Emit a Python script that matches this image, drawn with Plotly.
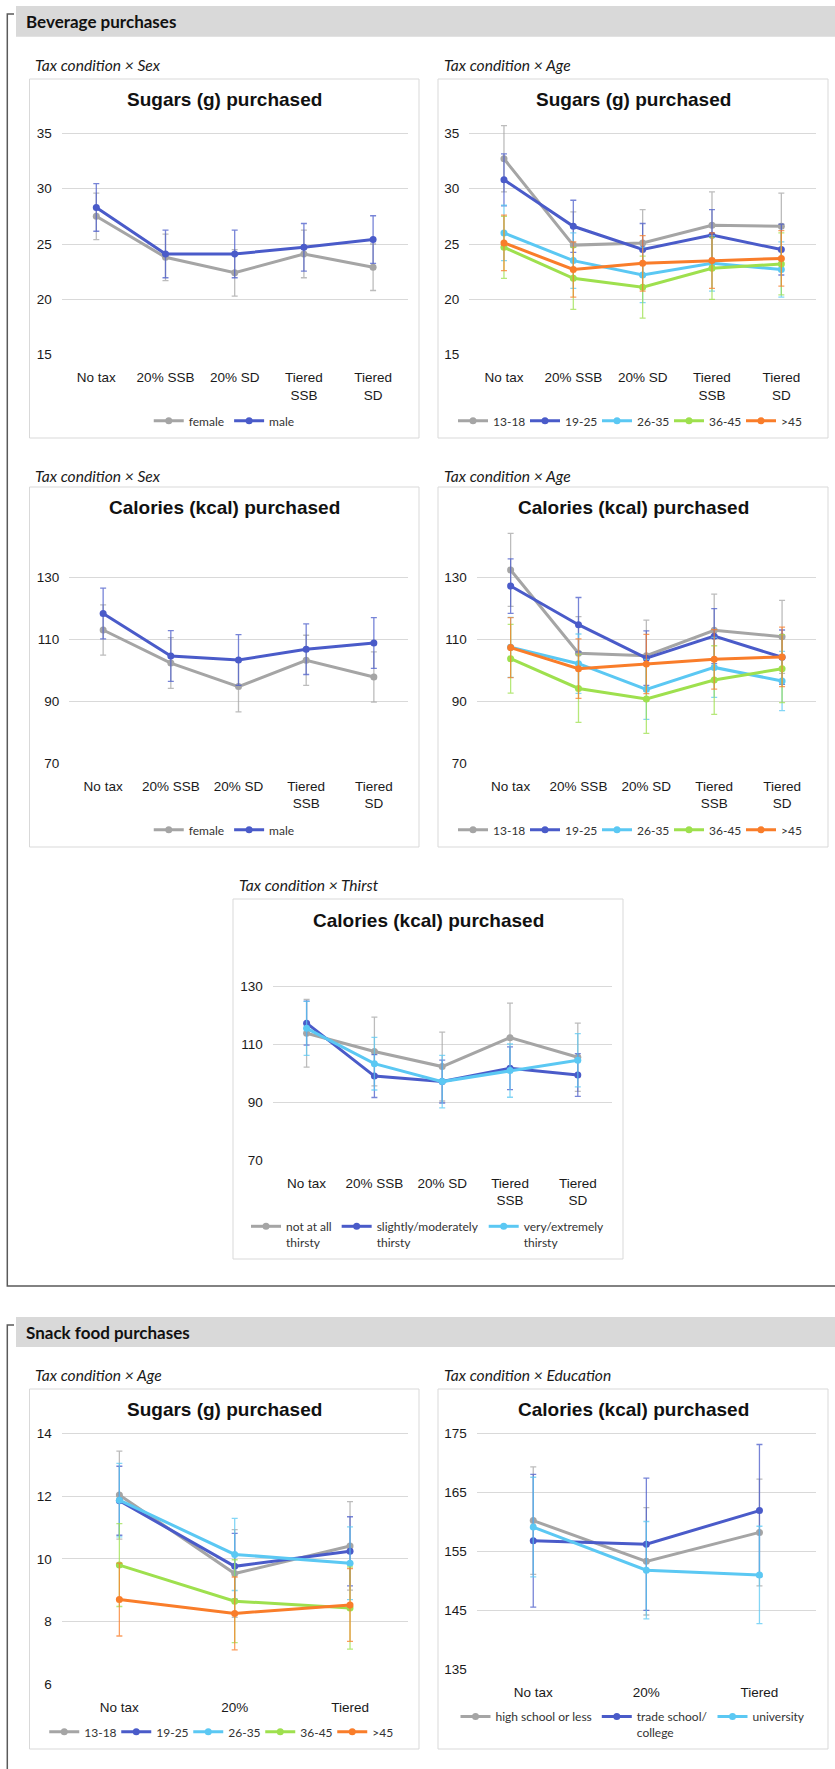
import plotly.graph_objects as go

W, H = 835, 1769

# ---------------- data ----------------
bev_categories = ["No tax", "20% SSB", "20% SD", "Tiered<br>SSB", "Tiered<br>SD"]
snack_categories = ["No tax", "20%", "Tiered"]

sex_groups = ["female", "male"]
age_groups = ["13-18", "19-25", "26-35", "36-45", ">45"]
thirst_groups = ["not at all<br>thirsty", "slightly/moderately<br>thirsty", "very/extremely<br>thirsty"]
edu_groups = ["high school or less", "trade school/<br>college", "university"]

# Beverage: sugars (g) by sex
bev_sugar_female = [27.5, 23.8, 22.4, 24.1, 22.9]
bev_sugar_female_err = [2.1, 2.1, 2.1, 2.15, 2.1]
bev_sugar_male = [28.3, 24.1, 24.1, 24.7, 25.4]
bev_sugar_male_err = [2.15, 2.15, 2.15, 2.15, 2.15]

# Beverage: sugars (g) by age
bev_sugar_13_18 = [32.7, 24.9, 25.1, 26.7, 26.6]
bev_sugar_13_18_err = [3.0, 3.0, 3.0, 3.0, 3.0]
bev_sugar_19_25 = [30.8, 26.6, 24.5, 25.8, 24.5]
bev_sugar_19_25_err = [2.35, 2.35, 2.35, 2.3, 2.3]
bev_sugar_26_35 = [26.0, 23.5, 22.2, 23.25, 22.7]
bev_sugar_26_35_err = [2.5, 2.5, 2.5, 2.5, 2.5]
bev_sugar_36_45 = [24.7, 21.9, 21.1, 22.8, 23.2]
bev_sugar_36_45_err = [2.8, 2.8, 2.8, 2.8, 2.8]
bev_sugar_45p = [25.1, 22.7, 23.25, 23.5, 23.7]
bev_sugar_45p_err = [2.5, 2.5, 2.5, 2.5, 2.5]

# Beverage: calories (kcal) by sex
bev_cal_female = [113.1, 102.4, 94.8, 103.3, 97.9]
bev_cal_female_err = [8.1, 8.2, 8.2, 8.1, 8.1]
bev_cal_male = [118.4, 104.7, 103.4, 106.9, 108.9]
bev_cal_male_err = [8.2, 8.2, 8.2, 8.2, 8.2]

# Beverage: calories (kcal) by age
bev_cal_13_18 = [132.5, 105.6, 104.8, 113.0, 110.9]
bev_cal_13_18_err = [11.8, 11.8, 11.5, 11.7, 11.8]
bev_cal_19_25 = [127.3, 114.8, 104.0, 111.1, 104.3]
bev_cal_19_25_err = [8.8, 8.8, 8.8, 8.9, 8.8]
bev_cal_26_35 = [107.5, 102.2, 93.9, 101.0, 96.6]
bev_cal_26_35_err = [9.7, 9.6, 9.7, 9.7, 9.6]
bev_cal_36_45 = [103.8, 94.2, 90.8, 96.9, 100.6]
bev_cal_36_45_err = [11.1, 11.0, 11.1, 11.1, 11.0]
bev_cal_45p = [107.4, 100.6, 102.1, 103.6, 104.4]
bev_cal_45p_err = [9.7, 9.6, 9.6, 9.6, 9.6]

# Beverage: calories (kcal) by thirst
bev_cal_not_thirsty = [113.9, 107.6, 102.4, 112.4, 105.6]
bev_cal_not_thirsty_err = [11.7, 11.9, 11.9, 11.9, 11.8]
bev_cal_slightly_thirsty = [117.4, 99.1, 97.2, 101.8, 99.5]
bev_cal_slightly_thirsty_err = [7.6, 7.4, 7.4, 7.4, 7.4]
bev_cal_very_thirsty = [115.6, 103.4, 97.2, 101.0, 104.6]
bev_cal_very_thirsty_err = [9.3, 9.1, 9.1, 9.2, 9.2]

# Snack: sugars (g) by age
snack_sugar_13_18 = [12.03, 9.53, 10.41]
snack_sugar_13_18_err = [1.4, 1.4, 1.41]
snack_sugar_19_25 = [11.85, 9.76, 10.24]
snack_sugar_19_25_err = [1.1, 1.05, 1.1]
snack_sugar_26_35 = [11.87, 10.14, 9.86]
snack_sugar_26_35_err = [1.17, 1.15, 1.16]
snack_sugar_36_45 = [9.80, 8.65, 8.43]
snack_sugar_36_45_err = [1.32, 1.32, 1.31]
snack_sugar_45p = [8.70, 8.26, 8.53]
snack_sugar_45p_err = [1.16, 1.16, 1.16]

# Snack: calories (kcal) by education
snack_cal_highschool = [160.2, 153.3, 158.2]
snack_cal_highschool_err = [9.1, 9.1, 9.05]
snack_cal_trade = [156.8, 156.2, 161.9]
snack_cal_trade_err = [11.25, 11.2, 11.2]
snack_cal_university = [159.1, 151.8, 151.0]
snack_cal_university_err = [8.45, 8.25, 8.25]

# ---------------- styling ----------------
GRAY = "#A5A5A5"
BLUE = "#4A5BC9"
LBLUE = "#5BC8F3"
GREEN = "#9EE04E"
ORANGE = "#F97D2A"

def rgba(hexc, a):
    h = hexc.lstrip("#")
    r, g, b = int(h[0:2], 16), int(h[2:4], 16), int(h[4:6], 16)
    return f"rgba({r},{g},{b},{a})"

TICK_FONT = dict(family="Liberation Sans, Arial, sans-serif", size=13.5, color="#1a1a1a")
LEG_FONT = dict(family="Lato, Carlito, sans-serif", size=12, color="#333333")

def px(x):
    return x / W

def py(y):
    return 1 - y / H

def ydomain(v1, p1, v2, p2, lo, hi):
    k = (p1 - p2) / (v2 - v1)
    pbot = p1 + (v1 - lo) * k
    ptop = p1 - (hi - v1) * k
    return [1 - pbot / H, 1 - ptop / H]

panels = [
    dict(box=(29.5, 79, 419, 438), xdom=(61.7, 407.7), ycal=(15, 354.7, 35, 133.3), yr=(15, 36),
         tv=[15, 20, 25, 30, 35], cats=bev_categories, title="Sugars (g) purchased", ty=99.5,
         sub="Tax condition × Sex", sx=33, sy=65, ly=421, ew=None,
         series=[(sex_groups[0], bev_sugar_female, bev_sugar_female_err, GRAY),
                 (sex_groups[1], bev_sugar_male, bev_sugar_male_err, BLUE)]),
    dict(box=(438, 79, 828, 438), xdom=(469.3, 816), ycal=(15, 354.7, 35, 133.3), yr=(15, 36),
         tv=[15, 20, 25, 30, 35], cats=bev_categories, title="Sugars (g) purchased", ty=99.5,
         sub="Tax condition × Age", sx=442, sy=65, ly=421, ew=27,
         series=[(age_groups[0], bev_sugar_13_18, bev_sugar_13_18_err, GRAY),
                 (age_groups[1], bev_sugar_19_25, bev_sugar_19_25_err, BLUE),
                 (age_groups[2], bev_sugar_26_35, bev_sugar_26_35_err, LBLUE),
                 (age_groups[3], bev_sugar_36_45, bev_sugar_36_45_err, GREEN),
                 (age_groups[4], bev_sugar_45p, bev_sugar_45p_err, ORANGE)]),
    dict(box=(29.5, 487, 419, 847), xdom=(69.3, 407.7), ycal=(70, 763.3, 130, 577.7), yr=(70, 146),
         tv=[70, 90, 110, 130], cats=bev_categories, title="Calories (kcal) purchased", ty=507.7,
         sub="Tax condition × Sex", sx=33, sy=476, ly=830, ew=None,
         series=[(sex_groups[0], bev_cal_female, bev_cal_female_err, GRAY),
                 (sex_groups[1], bev_cal_male, bev_cal_male_err, BLUE)]),
    dict(box=(438, 487, 828, 847), xdom=(476.7, 816), ycal=(70, 763.3, 130, 577.7), yr=(70, 146),
         tv=[70, 90, 110, 130], cats=bev_categories, title="Calories (kcal) purchased", ty=507.7,
         sub="Tax condition × Age", sx=442, sy=476, ly=830, ew=27,
         series=[(age_groups[0], bev_cal_13_18, bev_cal_13_18_err, GRAY),
                 (age_groups[1], bev_cal_19_25, bev_cal_19_25_err, BLUE),
                 (age_groups[2], bev_cal_26_35, bev_cal_26_35_err, LBLUE),
                 (age_groups[3], bev_cal_36_45, bev_cal_36_45_err, GREEN),
                 (age_groups[4], bev_cal_45p, bev_cal_45p_err, ORANGE)]),
    dict(box=(233, 899, 623, 1259), xdom=(272.7, 611.7), ycal=(70, 1160.3, 130, 986.7), yr=(70, 131),
         tv=[70, 90, 110, 130], cats=bev_categories, title="Calories (kcal) purchased", ty=920,
         sub="Tax condition × Thirst", sx=237, sy=885, ly=1234.5, ew=None,
         series=[(thirst_groups[0], bev_cal_not_thirsty, bev_cal_not_thirsty_err, GRAY),
                 (thirst_groups[1], bev_cal_slightly_thirsty, bev_cal_slightly_thirsty_err, BLUE),
                 (thirst_groups[2], bev_cal_very_thirsty, bev_cal_very_thirsty_err, LBLUE)]),
    dict(box=(29.5, 1389, 419, 1749), xdom=(61.7, 407.7), ycal=(6, 1684.3, 14, 1433.3), yr=(6, 14.1),
         tv=[6, 8, 10, 12, 14], cats=snack_categories, title="Sugars (g) purchased", ty=1409.3,
         sub="Tax condition × Age", sx=33, sy=1375, ly=1732, ew=27,
         series=[(age_groups[0], snack_sugar_13_18, snack_sugar_13_18_err, GRAY),
                 (age_groups[1], snack_sugar_19_25, snack_sugar_19_25_err, BLUE),
                 (age_groups[2], snack_sugar_26_35, snack_sugar_26_35_err, LBLUE),
                 (age_groups[3], snack_sugar_36_45, snack_sugar_36_45_err, GREEN),
                 (age_groups[4], snack_sugar_45p, snack_sugar_45p_err, ORANGE)]),
    dict(box=(438, 1389, 828, 1749), xdom=(476.7, 816), ycal=(135, 1669.3, 175, 1433.3), yr=(135, 175.3),
         tv=[135, 145, 155, 165, 175], cats=snack_categories, title="Calories (kcal) purchased", ty=1409.3,
         sub="Tax condition × Education", sx=442, sy=1375, ly=1724.8, ew=None,
         series=[(edu_groups[0], snack_cal_highschool, snack_cal_highschool_err, GRAY),
                 (edu_groups[1], snack_cal_trade, snack_cal_trade_err, BLUE),
                 (edu_groups[2], snack_cal_university, snack_cal_university_err, LBLUE)]),
]

fig = go.Figure()
shapes = []
annotations = []
layout_extra = {}

# header bars and brackets
for (y0, y1, label, ty) in [(6, 36.7, "Beverage purchases", 21.5), (1317, 1347, "Snack food purchases", 1332)]:
    shapes.append(dict(type="rect", xref="paper", yref="paper", x0=px(16), x1=1, y0=py(y1), y1=py(y0),
                       fillcolor="#D9D9D9", line=dict(width=0), layer="below"))
    annotations.append(dict(text=f"<b>{label}</b>", xref="paper", yref="paper", x=px(24), y=py(ty),
                            xanchor="left", yanchor="middle", showarrow=False,
                            font=dict(family="Lato, Carlito, sans-serif", size=17, color="#111111")))

BR = dict(color="#5a5a5a", width=1.5)
shapes.append(dict(type="path", xref="paper", yref="paper", layer="above",
                   path=f"M {px(14)},{py(14)} L {px(7.3)},{py(14)} L {px(7.3)},{py(1286)} L 1,{py(1286)}",
                   line=BR))
shapes.append(dict(type="path", xref="paper", yref="paper", layer="above",
                   path=f"M {px(14)},{py(1325)} L {px(7.3)},{py(1325)} L {px(7.3)},0",
                   line=BR))

for i, p in enumerate(panels):
    n = i + 1
    xa = "x" if n == 1 else f"x{n}"
    ya = "y" if n == 1 else f"y{n}"
    lg = "legend" if n == 1 else f"legend{n}"
    bx0, by0, bx1, by1 = p["box"]
    shapes.append(dict(type="rect", xref="paper", yref="paper", x0=px(bx0), x1=px(bx1),
                       y0=py(by1), y1=py(by0), fillcolor="white",
                       line=dict(color="#D9D9D9", width=1), layer="below"))
    for (name, vals, errs, col) in p["series"]:
        fig.add_trace(go.Scatter(
            x=p["cats"], y=vals, name=name, mode="lines+markers",
            xaxis=xa, yaxis=ya, legend=lg,
            line=dict(color=col, width=3),
            marker=dict(color=col, size=7),
            error_y=dict(type="data", array=errs, visible=True, color=rgba(col, 0.75),
                         thickness=1.3, width=3),
        ))
    ncat = len(p["cats"])
    xkey = "xaxis" if n == 1 else f"xaxis{n}"
    ykey = "yaxis" if n == 1 else f"yaxis{n}"
    layout_extra[xkey] = dict(domain=[px(p["xdom"][0]), px(p["xdom"][1])], anchor=ya,
                              type="category", categoryorder="array", categoryarray=p["cats"],
                              range=[-0.5, ncat - 0.5], showgrid=False, showline=False,
                              zeroline=False, ticks="", tickfont=TICK_FONT, ticklabelstandoff=13,
                              fixedrange=True)
    v1, p1, v2, p2 = p["ycal"]
    layout_extra[ykey] = dict(domain=ydomain(v1, p1, v2, p2, p["yr"][0], p["yr"][1]), anchor=xa,
                              range=list(p["yr"]), tickvals=p["tv"], showgrid=True,
                              gridcolor="#D9D9D9", gridwidth=1, showline=False, zeroline=False,
                              ticks="", tickfont=TICK_FONT, ticklabelstandoff=9, fixedrange=True)
    leg = dict(orientation="h", x=px((bx0 + bx1) / 2), xanchor="center",
               y=py(p["ly"]), yanchor="middle", font=LEG_FONT, itemwidth=30,
               bgcolor="rgba(0,0,0,0)", valign="top", traceorder="normal",
               itemclick=False, itemdoubleclick=False)
    if p["ew"]:
        leg["entrywidth"] = p["ew"]
        leg["entrywidthmode"] = "pixels"
    layout_extra[lg] = leg
    annotations.append(dict(text=f"<b>{p['title']}</b>", xref="paper", yref="paper",
                            x=px((bx0 + bx1) / 2), y=py(p["ty"]), xanchor="center", yanchor="middle",
                            showarrow=False,
                            font=dict(family="Liberation Sans, Arial, sans-serif", size=19, color="#111111")))
    annotations.append(dict(text=f"<i>{p['sub']}</i>", xref="paper", yref="paper",
                            x=px(p["sx"]), y=py(p["sy"]), xanchor="left", yanchor="middle",
                            showarrow=False,
                            font=dict(family="Lato, Carlito, sans-serif", size=15.6, color="#1a1a1a")))

fig.update_layout(
    width=W, height=H,
    margin=dict(l=0, r=0, t=0, b=0),
    paper_bgcolor="white", plot_bgcolor="rgba(0,0,0,0)",
    template="none",
    shapes=shapes, annotations=annotations,
    **layout_extra,
)

fig.write_html("out.html",
               config={"displayModeBar": False},
               post_script="document.body.style.margin='0px';document.body.style.padding='0px';")
